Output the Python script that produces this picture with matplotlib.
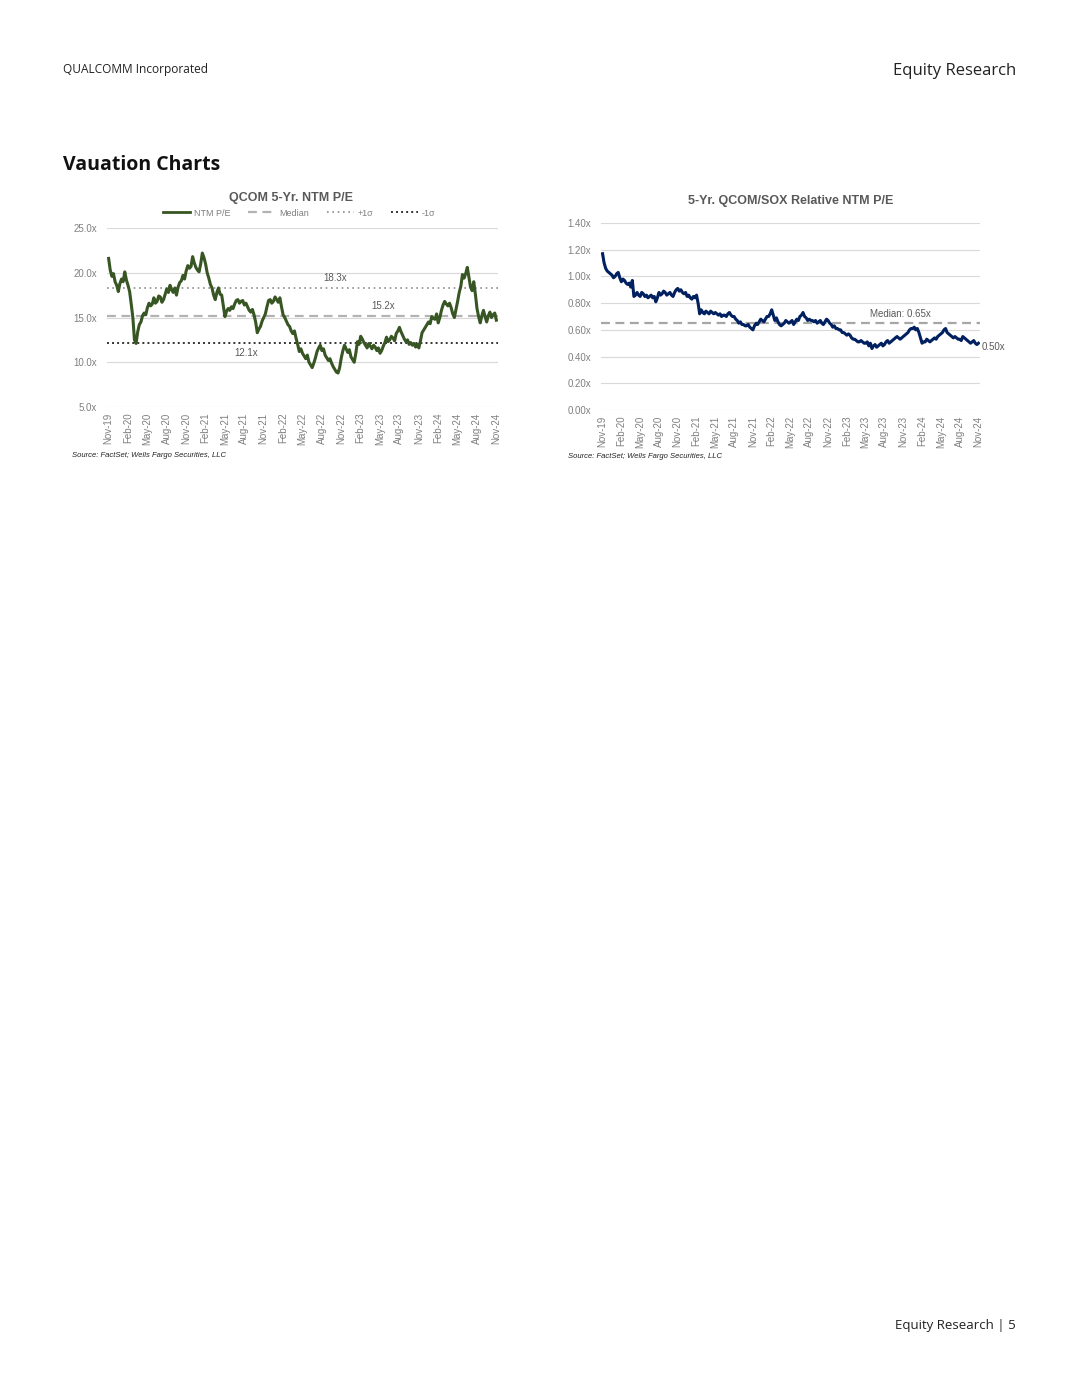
import matplotlib
matplotlib.use("Agg")
import matplotlib.pyplot as plt
from matplotlib.lines import Line2D

# ---------------- data ----------------
tick_labels = ["Nov-19", "Feb-20", "May-20", "Aug-20", "Nov-20", "Feb-21", "May-21",
               "Aug-21", "Nov-21", "Feb-22", "May-22", "Aug-22", "Nov-22", "Feb-23",
               "May-23", "Aug-23", "Nov-23", "Feb-24", "May-24", "Aug-24", "Nov-24"]

# roughly weekly readings (4 per month), Nov-19 .. Nov-24
qcom_pe = [21.6, 20.3, 19.6, 19.9, 19.0, 18.6, 17.9, 18.8, 19.3, 19.0,
           20.1, 19.2, 18.6, 17.9, 16.5, 15.0, 12.5, 12.1, 13.4, 14.2,
           14.5, 15.2, 15.5, 15.3, 16.1, 16.6, 16.3, 16.5, 17.2, 16.6,
           16.8, 17.4, 17.3, 16.7, 17.0, 17.6, 18.2, 17.8, 18.6, 18.1,
           17.8, 18.3, 17.5, 18.4, 18.9, 19.1, 19.7, 19.3, 20.2, 20.8,
           20.5, 20.7, 21.8, 21.1, 20.6, 20.3, 20.1, 21.0, 22.2, 21.7,
           21.0, 20.0, 19.4, 18.7, 18.3, 17.5, 17.0, 17.8, 18.3, 17.6,
           17.5, 16.3, 15.1, 15.7, 16.0, 15.8, 16.2, 16.0, 16.5, 16.9,
           17.0, 16.6, 16.8, 16.9, 16.4, 16.6, 16.2, 15.8, 15.6, 15.9,
           15.3, 14.5, 13.3, 13.7, 14.0, 14.6, 15.0, 15.4, 16.2, 16.9,
           17.0, 16.6, 16.8, 17.3, 17.0, 16.7, 17.2, 16.2, 15.3, 15.0,
           14.6, 14.2, 14.0, 13.5, 13.2, 13.5, 12.7, 12.0, 11.2, 11.5,
           11.0, 10.7, 10.4, 10.8, 10.0, 9.7, 9.4, 9.9, 10.5, 11.2,
           11.6, 11.9, 11.3, 11.5, 10.8, 10.5, 10.2, 10.4, 9.9, 9.5,
           9.2, 8.9, 8.8, 9.4, 10.5, 11.3, 11.9, 11.5, 11.1, 11.4,
           10.6, 10.3, 10.0, 11.0, 12.3, 12.0, 12.9, 12.6, 12.2, 11.9,
           11.6, 12.1, 11.8, 11.5, 11.9, 11.7, 11.3, 11.6, 11.0, 11.3,
           11.8, 12.2, 12.8, 12.3, 12.5, 12.9, 12.7, 12.4, 13.2, 13.5,
           13.9, 13.4, 13.0, 12.6, 12.3, 12.5, 12.0, 12.2, 11.9, 12.1,
           11.7, 12.0, 11.6, 12.4, 13.3, 13.6, 13.9, 14.2, 14.5, 14.3,
           15.1, 14.9, 14.8, 15.4, 14.4, 15.0, 15.8, 16.4, 16.8, 16.5,
           16.3, 16.6, 16.1, 15.4, 15.0, 15.9, 16.8, 17.8, 18.5, 19.8,
           19.4, 19.9, 20.6, 19.5, 18.4, 18.0, 19.0, 17.6, 16.0, 15.1,
           14.4, 15.2, 15.8, 15.1, 14.5, 15.2, 15.6, 15.0, 15.3, 15.5,
           14.7]
pe_plus1 = 18.3
pe_median = 15.2
pe_minus1 = 12.1

rel_pe = [1.17, 1.10, 1.06, 1.04, 1.03, 1.02, 1.01, 0.99, 1.00, 1.02,
          1.03, 0.99, 0.96, 0.98, 0.97, 0.95, 0.94, 0.95, 0.92, 0.97,
          0.85, 0.86, 0.88, 0.86, 0.85, 0.88, 0.87, 0.85, 0.86, 0.84,
          0.85, 0.86, 0.84, 0.85, 0.81, 0.84, 0.88, 0.86, 0.87, 0.89,
          0.88, 0.86, 0.87, 0.88, 0.86, 0.85, 0.88, 0.90, 0.91, 0.89,
          0.90, 0.88, 0.87, 0.88, 0.85, 0.86, 0.84, 0.83, 0.85, 0.84,
          0.86, 0.80, 0.72, 0.75, 0.73, 0.72, 0.74, 0.73, 0.72, 0.74,
          0.73, 0.72, 0.73, 0.72, 0.71, 0.72, 0.70, 0.71, 0.71, 0.70,
          0.72, 0.73, 0.71, 0.70, 0.70, 0.68, 0.67, 0.65, 0.66, 0.64,
          0.64, 0.63, 0.63, 0.64, 0.62, 0.61, 0.60, 0.63, 0.65, 0.64,
          0.66, 0.68, 0.67, 0.66, 0.68, 0.70, 0.70, 0.72, 0.75, 0.71,
          0.67, 0.69, 0.66, 0.64, 0.63, 0.64, 0.65, 0.67, 0.66, 0.65,
          0.66, 0.67, 0.64, 0.66, 0.68, 0.67, 0.70, 0.71, 0.73, 0.70,
          0.69, 0.67, 0.68, 0.67, 0.67, 0.66, 0.67, 0.65, 0.66, 0.67,
          0.65, 0.64, 0.66, 0.68, 0.67, 0.65, 0.64, 0.62, 0.63, 0.61,
          0.61, 0.60, 0.60, 0.58, 0.58, 0.57, 0.56, 0.57, 0.56, 0.54,
          0.53, 0.53, 0.52, 0.51, 0.51, 0.52, 0.51, 0.50, 0.50, 0.51,
          0.48, 0.50, 0.46, 0.48, 0.49, 0.47, 0.48, 0.49, 0.50, 0.48,
          0.49, 0.51, 0.52, 0.50, 0.51, 0.52, 0.53, 0.54, 0.55, 0.54,
          0.53, 0.54, 0.55, 0.56, 0.57, 0.58, 0.60, 0.61, 0.61, 0.62,
          0.60, 0.61, 0.58, 0.54, 0.50, 0.51, 0.51, 0.53, 0.52, 0.51,
          0.52, 0.53, 0.54, 0.53, 0.55, 0.56, 0.57, 0.58, 0.60, 0.61,
          0.58, 0.57, 0.56, 0.55, 0.54, 0.55, 0.54, 0.53, 0.53, 0.52,
          0.55, 0.54, 0.53, 0.52, 0.51, 0.50, 0.51, 0.52, 0.50, 0.49,
          0.50]
rel_median = 0.65
rel_last = 0.50

# ---------------- figure ----------------
W, H = 1080, 1397
fig = plt.figure(figsize=(W / 100, H / 100), dpi=100)
fig.patch.set_facecolor("white")

def fx(px):
    return px / W

def fy(py):
    return 1 - py / H

hdr_font = ["Open Sans", "DejaVu Sans"]
chart_font = ["Liberation Sans", "DejaVu Sans"]
GRAY = "#7f7f7f"
TXT = "#595959"
FS = 7

fig.text(fx(63), fy(69), "QUALCOMM Incorporated", fontsize=8.6, family=hdr_font,
         color="#222222", va="center", ha="left")
fig.text(fx(1016), fy(71), "Equity Research", fontsize=12, family=hdr_font,
         color="#222222", va="center", ha="right")
fig.text(fx(63), fy(165), "Vauation Charts", fontsize=14, family=hdr_font,
         weight="bold", color="#111111", va="center", ha="left")
fig.text(fx(1016), fy(1325), "Equity Research | 5", fontsize=9.5, family=hdr_font,
         color="#222222", va="center", ha="right")

n = len(qcom_pe)
xs = list(range(n))
step = (n - 1) // (len(tick_labels) - 1)
tick_pos = [i * step for i in range(len(tick_labels))]

def style_axes(ax):
    for s in ax.spines.values():
        s.set_visible(False)
    ax.grid(axis="y", color="#d9d9d9", linewidth=0.8)
    ax.set_axisbelow(True)
    ax.tick_params(axis="both", length=0, labelsize=FS, labelcolor=GRAY, pad=7)
    ax.set_xticks(tick_pos)
    ax.set_xticklabels(tick_labels, rotation=90, family=chart_font)
    ax.tick_params(axis="x", pad=4)

# ---- left chart ----
axL = fig.add_axes([fx(107), fy(407), fx(498) - fx(107), fy(228) - fy(407)])
axL.set_xlim(-1, n)
axL.set_ylim(5, 25)
lt = [5, 10, 15, 20, 25]
axL.set_yticks(lt)
axL.set_yticklabels([f"{v:.1f}x" for v in lt])
style_axes(axL)
axL.axhline(pe_plus1, color="#8c8c8c", linestyle=(0, (1, 2.2)), linewidth=1.2)
axL.axhline(pe_median, color="#b3b3b3", linestyle=(0, (4, 2.5)), linewidth=1.6)
axL.axhline(pe_minus1, color="#333333", linestyle=(0, (1, 1.6)), linewidth=1.4)
axL.plot(xs, qcom_pe, color="#375623", linewidth=2.2, solid_joinstyle="round")
axL.text(140, pe_plus1 + 0.5, f"{pe_plus1:.1f}x", fontsize=FS, color=TXT,
         family=chart_font, ha="center", va="bottom")
axL.text(170, pe_median + 0.5, f"{pe_median:.1f}x", fontsize=FS, color=TXT,
         family=chart_font, ha="center", va="bottom")
axL.text(85, pe_minus1 - 0.5, f"{pe_minus1:.1f}x", fontsize=FS, color=TXT,
         family=chart_font, ha="center", va="top")
for lab in axL.get_xticklabels() + axL.get_yticklabels():
    lab.set_family(chart_font)

fig.text(fx(291), fy(198), "QCOM 5-Yr. NTM P/E", fontsize=9, weight="bold",
         color=TXT, family=chart_font, ha="center", va="center")
handles = [
    Line2D([], [], color="#375623", linewidth=2.0),
    Line2D([], [], color="#b3b3b3", linestyle=(0, (4, 2.5)), linewidth=1.6),
    Line2D([], [], color="#8c8c8c", linestyle=(0, (1, 2.2)), linewidth=1.2),
    Line2D([], [], color="#333333", linestyle=(0, (1, 1.6)), linewidth=1.4),
]
leg = fig.legend(handles, ["NTM P/E", "Median", "+1\u03c3", "-1\u03c3"],
                 loc="center", bbox_to_anchor=(fx(299), fy(213)), ncol=4,
                 frameon=False, handlelength=3.0, handletextpad=0.4,
                 columnspacing=2.0, borderpad=0,
                 prop={"family": chart_font, "size": 6.5})
for t in leg.get_texts():
    t.set_color(GRAY)

fig.text(fx(72), fy(455), "Source: FactSet; Wells Fargo Securities, LLC", fontsize=5.5,
         style="italic", color="#222222", family=chart_font, ha="left", va="center")

# ---- right chart ----
m = len(rel_pe)
xr = list(range(m))
axR = fig.add_axes([fx(601), fy(410), fx(980) - fx(601), fy(223) - fy(410)])
axR.set_xlim(-1, m)
axR.set_ylim(0, 1.4)
rt = [0, 0.2, 0.4, 0.6, 0.8, 1.0, 1.2, 1.4]
axR.set_yticks(rt)
axR.set_yticklabels([f"{v:.2f}x" for v in rt])
style_axes(axR)
axR.axhline(rel_median, color="#a6a6a6", linestyle=(0, (4, 2.5)), linewidth=1.6)
axR.plot(xr, rel_pe, color="#002060", linewidth=2.2, solid_joinstyle="round")
axR.text(190, rel_median + 0.03, f"Median: {rel_median:.2f}x", fontsize=FS, color=TXT,
         family=chart_font, ha="center", va="bottom")
axR.text(m + 1, rel_last - 0.03, f"{rel_last:.2f}x", fontsize=FS, color=TXT,
         family=chart_font, ha="left", va="center", clip_on=False)
for lab in axR.get_xticklabels() + axR.get_yticklabels():
    lab.set_family(chart_font)

fig.text(fx(791), fy(201), "5-Yr. QCOM/SOX Relative NTM P/E", fontsize=9, weight="bold",
         color=TXT, family=chart_font, ha="center", va="center")
fig.text(fx(568), fy(456), "Source: FactSet; Wells Fargo Securities, LLC", fontsize=5.5,
         style="italic", color="#222222", family=chart_font, ha="left", va="center")

fig.savefig("out.png", dpi=100, facecolor="white")
